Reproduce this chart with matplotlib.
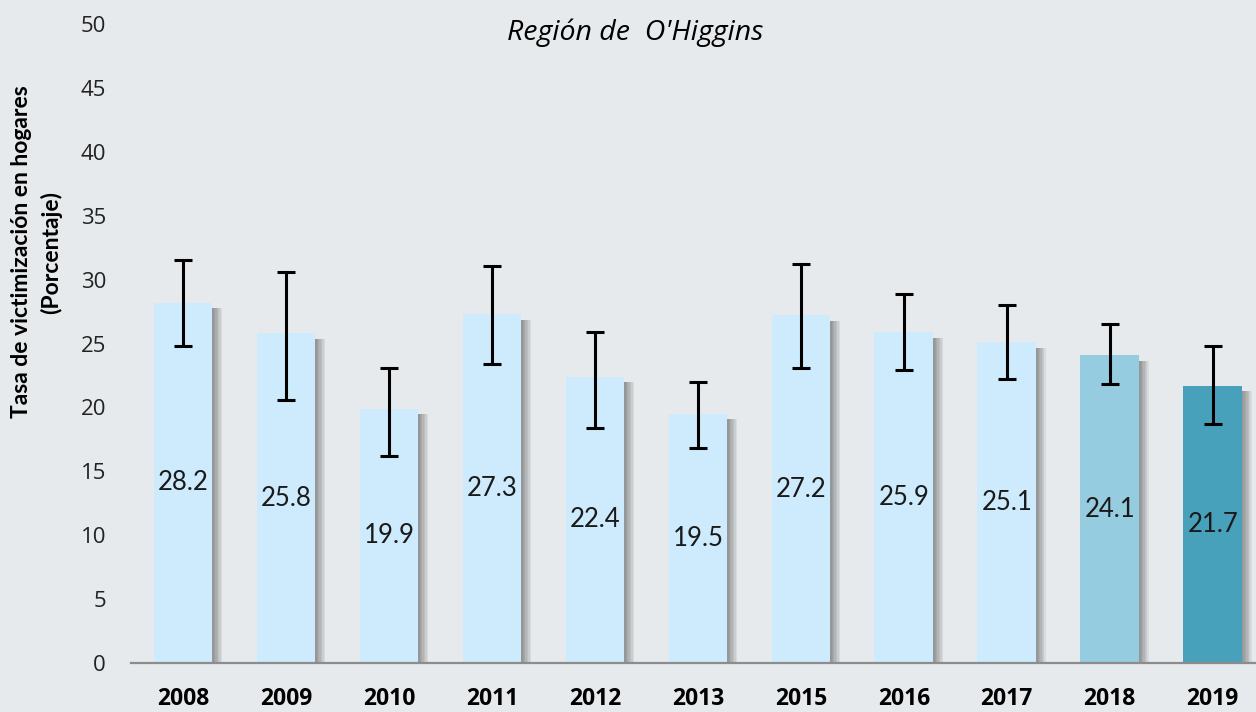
import matplotlib
matplotlib.use('Agg')
import matplotlib.pyplot as plt
import matplotlib.patheffects as pe
import numpy as np

years = ['2008', '2009', '2010', '2011', '2012', '2013', '2015', '2016', '2017', '2018', '2019']
values = [28.2, 25.8, 19.9, 27.3, 22.4, 19.5, 27.2, 25.9, 25.1, 24.1, 21.7]
err_low = [24.8, 20.6, 16.2, 23.4, 18.4, 16.8, 23.1, 22.9, 22.2, 21.8, 18.7]
err_high = [31.5, 30.6, 23.1, 31.1, 25.9, 22.0, 31.2, 28.9, 28.0, 26.5, 24.8]
bar_colors = ['#cdebfc'] * 9 + ['#96ccdf', '#47a1ba']

bg = '#e6eaec'
fig = plt.figure(figsize=(12.56, 7.12), dpi=100, facecolor=bg)
ax = fig.add_axes([0.1043, 0.0688, 0.8957, 0.8975])
ax.set_facecolor(bg)

x = np.arange(len(years))
# soft shadow on the right side of each bar
shadow = [pe.SimplePatchShadow(offset=(d, -4), shadow_rgbFace='#444444', alpha=0.09)
          for d in (1, 2, 3, 4, 5, 6, 7)]
bars = ax.bar(x, values, width=0.57, color=bar_colors, zorder=2,
              path_effects=shadow + [pe.Normal()])

lo = np.array(values) - np.array(err_low)
hi = np.array(err_high) - np.array(values)
ax.errorbar(x, values, yerr=[lo, hi], fmt='none', ecolor='black',
            elinewidth=2.2, capsize=6.5, capthick=2.2, zorder=3)

for xi, v in zip(x, values):
    ax.text(xi, v / 2, '%.1f' % v, ha='center', va='center',
            fontsize=18.5, family='Lato', color='#1a1a1a', zorder=4)

ax.set_xlim(-0.505, 10.42)
ax.set_ylim(0, 50)
ax.set_yticks(range(0, 51, 5))
ax.set_xticks(x)
ax.set_xticklabels(years, fontsize=16.5, fontweight='bold', family='Open Sans')
for lab in ax.get_yticklabels():
    lab.set_fontsize(16)
    lab.set_family('Open Sans')
    lab.set_color('#222222')
ax.tick_params(axis='y', length=0, pad=18)
ax.tick_params(axis='x', length=0, pad=17)

for s in ('top', 'right', 'left'):
    ax.spines[s].set_visible(False)
ax.spines['bottom'].set_color('#8c8c8c')
ax.spines['bottom'].set_linewidth(1.6)

fig.text(37 / 1256, 1 - 252 / 712, 'Tasa de victimización en hogares\n(Porcentaje)',
         rotation=90, ha='center', va='center', fontsize=16.5,
         fontweight='bold', family='Lato', linespacing=1.45)
fig.text(635 / 1256, 1 - 33 / 712, "Región de  O'Higgins", ha='center',
         va='center', fontsize=20.5, style='italic', family='Open Sans')

fig.savefig('out.png', dpi=100, facecolor=bg)
